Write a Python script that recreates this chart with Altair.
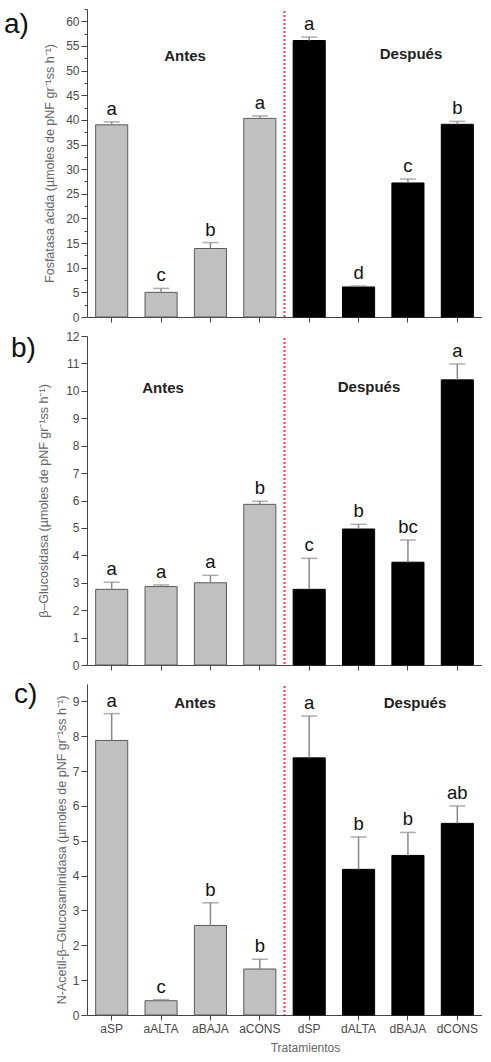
import altair as alt
import pandas as pd

treatments = ["aSP", "aALTA", "aBAJA", "aCONS", "dSP", "dALTA", "dBAJA", "dCONS"]
groups = ["Antes"] * 4 + ["Después"] * 4

fosf_mean = [39.0, 5.0, 13.9, 40.3, 56.1, 6.1, 27.2, 39.1]
fosf_se = [0.6, 0.8, 1.2, 0.5, 0.7, 0.2, 0.8, 0.6]
fosf_letters = ["a", "c", "b", "a", "a", "d", "c", "b"]

gluc_mean = [2.76, 2.86, 3.0, 5.86, 2.76, 4.96, 3.75, 10.4]
gluc_se = [0.26, 0.06, 0.27, 0.11, 1.13, 0.17, 0.81, 0.58]
gluc_letters = ["a", "a", "a", "b", "c", "b", "bc", "a"]

nag_mean = [7.88, 0.41, 2.57, 1.32, 7.38, 4.18, 4.58, 5.5]
nag_se = [0.77, 0.03, 0.65, 0.28, 1.2, 0.93, 0.66, 0.5]
nag_letters = ["a", "c", "b", "b", "a", "b", "b", "ab"]

FONT = "Liberation Sans"
W = 395


def panel(mean, se, letters, ytitle, ymax, major, minor, height, show_x, plabel,
          plabel_pos, antes_pos, desp_pos, title_pad):
    df = pd.DataFrame({
        "trat": treatments,
        "grupo": groups,
        "media": mean,
        "sup": [m + s for m, s in zip(mean, se)],
        "letra": letters,
    })
    n = int(round(ymax / minor))
    vals = [float(round(i * minor, 3)) for i in range(n + 1)]
    xscale = alt.Scale(domain=treatments, paddingInner=0.35, paddingOuter=0.175)
    xaxis = alt.Axis(
        title="Tratamientos" if show_x else None,
        labels=show_x,
        labelAngle=0,
        labelFont=FONT,
        labelFontSize=12,
        labelColor="#4a4a4a",
        labelPadding=3,
        tickSize=5,
        tickColor="#444444",
        domainColor="#444444",
        titleFont=FONT,
        titleFontSize=12,
        titleFontWeight="normal",
        titleColor="#666666",
        titlePadding=8,
        titleX=218,
    )
    yscale = alt.Scale(domain=[0, ymax], nice=False, zero=True)
    cond = f"abs(datum.value % {major}) < 0.000001"
    yaxis = alt.Axis(
        title=ytitle,
        values=vals,
        format="d",
        labelExpr=f"{cond} ? format(datum.value, 'd') : ''",
        labelOverlap=False,
        labelFont=FONT,
        labelFontSize=12,
        labelColor="#4a4a4a",
        labelPadding=2,
        tickSize={"condition": {"test": cond, "value": 6}, "value": 3},
        tickColor="#444444",
        domainColor="#444444",
        grid=False,
        titleFont=FONT,
        titleFontSize=12.5,
        titleFontWeight="normal",
        titleColor="#666666",
        titlePadding=title_pad,
    )

    def X():
        return alt.X("trat:N", sort=treatments, scale=xscale, axis=xaxis)

    def Y(f):
        return alt.Y(f, scale=yscale, axis=yaxis, title=ytitle)

    base = alt.Chart(df)
    bars = base.mark_bar(strokeWidth=1).encode(
        x=X(),
        y=Y("media:Q"),
        color=alt.Color("grupo:N", scale=alt.Scale(domain=["Antes", "Después"], range=["#c0c0c0", "#000000"]), legend=None),
        stroke=alt.Stroke("grupo:N", scale=alt.Scale(domain=["Antes", "Después"], range=["#5a5a5a", "#000000"]), legend=None),
    )
    err = base.mark_rule(color="#8a8a8a", strokeWidth=1.5).encode(
        x=X(), y=Y("media:Q"), y2="sup:Q"
    )
    cap = base.mark_tick(color="#8a8a8a", thickness=1.5, size=16, orient="horizontal").encode(
        x=X(), y=Y("sup:Q")
    )
    txt = base.mark_text(font=FONT, fontSize=18.5, color="#111111", baseline="alphabetic", dy=-7).encode(
        x=X(), y=Y("sup:Q"), text="letra:N"
    )
    one = pd.DataFrame({"k": [0]})
    divider = alt.Chart(one).mark_rule(color="#e8414a", strokeWidth=2, strokeDash=[2, 2]).encode(
        x=alt.value(W / 2), y=alt.value(2), y2=alt.value(height)
    )
    antes = alt.Chart(one).mark_text(font=FONT, fontSize=15, fontWeight="bold", color="#222222").encode(
        x=alt.value(antes_pos[0]), y=alt.value(antes_pos[1]), text=alt.value("Antes")
    )
    desp = alt.Chart(one).mark_text(font=FONT, fontSize=15, fontWeight="bold", color="#222222").encode(
        x=alt.value(desp_pos[0]), y=alt.value(desp_pos[1]), text=alt.value("Después")
    )
    lab = alt.Chart(one).mark_text(font=FONT, fontSize=28, color="#111111", align="left", baseline="alphabetic").encode(
        x=alt.value(plabel_pos[0]), y=alt.value(plabel_pos[1]), text=alt.value(plabel)
    )
    return alt.layer(bars, err, cap, txt, divider, antes, desp, lab).properties(width=W, height=height)


pa = panel(fosf_mean, fosf_se, fosf_letters,
           "Fosfatasa ácida (µmoles de pNF gr⁻¹ss h⁻¹)", 62.5, 5, 2.5, 308, False,
           "a)", (-83, 24), (98, 47), (324, 45), 9)
pb = panel(gluc_mean, gluc_se, gluc_letters,
           "β–Glucosidasa (µmoles de pNF gr⁻¹ss h⁻¹)", 12, 1, 0.5, 329, False,
           "b)", (-76, 21), (76, 52), (282, 51), 15)
pc = panel(nag_mean, nag_se, nag_letters,
           "N-Acetil-β–Glucosaminidasa (µmoles de pNF gr⁻¹ss h⁻¹)", 9.5, 1, 0.5, 331, True,
           "c)", (-73, 19), (108, 19), (328, 19), 4)

chart = alt.vconcat(pa, pb, pc, spacing=19, bounds="flush").properties(
    padding={"left": 4, "top": 3, "right": 0, "bottom": 0}
).configure_view(stroke=None)

chart.save("out.html", embed_options={"renderer": "svg", "actions": False})
